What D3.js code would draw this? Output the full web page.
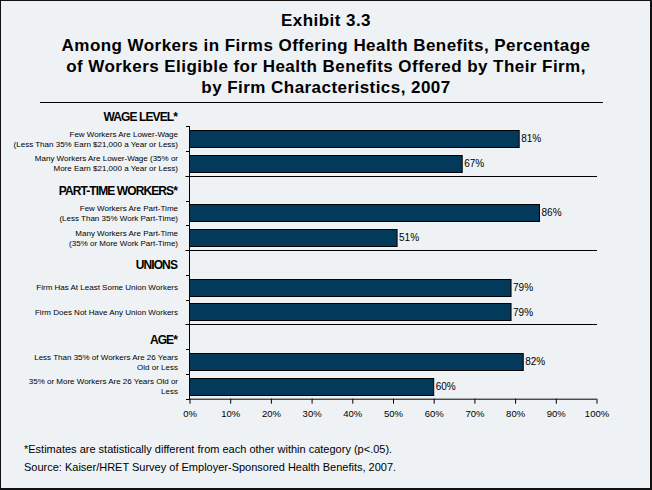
<!DOCTYPE html>
<html>
<head>
<meta charset="utf-8">
<script src="https://cdn.jsdelivr.net/npm/d3@7"></script>
<style>
  html, body { margin: 0; padding: 0; background: #EEF2F5; }
  svg { display: block; }
  text { font-family: "Liberation Sans", Arial, sans-serif; }
</style>
</head>
<body>
<svg id="chart" width="652" height="490"></svg>
<script>
// ---- data ----
const titleLines = [
  "Exhibit 3.3",
  "Among Workers in Firms Offering Health Benefits, Percentage",
  "of Workers Eligible for Health Benefits Offered by Their Firm,",
  "by Firm Characteristics, 2007"
];
const groupHeaders = ["WAGE LEVEL*", "PART-TIME WORKERS*", "UNIONS", "AGE*"];
const categoryLabels = [
  ["Few Workers Are Lower-Wage", "(Less Than 35% Earn $21,000 a Year or Less)"],
  ["Many Workers Are Lower-Wage (35% or", "More Earn $21,000 a Year or Less)"],
  ["Few Workers Are Part-Time", "(Less Than 35% Work Part-Time)"],
  ["Many Workers Are Part-Time", "(35% or More Work Part-Time)"],
  ["Firm Has At Least Some Union Workers"],
  ["Firm Does Not Have Any Union Workers"],
  ["Less Than 35% of Workers Are 26 Years", "Old or Less"],
  ["35% or More Workers Are 26 Years Old or", "Less"]
];
const values = [81, 67, 86, 51, 79, 79, 82, 60];
const xTicks = [0, 10, 20, 30, 40, 50, 60, 70, 80, 90, 100];
const footnotes = [
  "*Estimates are statistically different from each other within category (p<.05).",
  "Source:  Kaiser/HRET Survey of Employer-Sponsored Health Benefits, 2007."
];

// ---- build rows: header, bar, bar per group ----
const rows = [];
groupHeaders.forEach((h, g) => {
  rows.push({ type: "header", key: "h" + g, label: h });
  for (let k = 0; k < 2; k++) {
    const i = g * 2 + k;
    rows.push({ type: "bar", key: "b" + i, label: categoryLabels[i], value: values[i] });
  }
});

const svg = d3.select("#chart");
const W = 652, H = 490;

// background
svg.append("rect").attr("x", 0).attr("y", 0).attr("width", W).attr("height", H).attr("fill", "#EEF2F5");

// frame
svg.append("line").attr("x1", 0.5).attr("x2", 0.5).attr("y1", 0).attr("y2", 490).attr("stroke", "#111").attr("stroke-width", 1);
svg.append("line").attr("x1", 0).attr("x2", 652).attr("y1", 0.5).attr("y2", 0.5).attr("stroke", "#111").attr("stroke-width", 1);
svg.append("line").attr("x1", 651).attr("x2", 651).attr("y1", 0).attr("y2", 490).attr("stroke", "#111").attr("stroke-width", 2);
svg.append("line").attr("x1", 0).attr("x2", 652).attr("y1", 489).attr("y2", 489).attr("stroke", "#111").attr("stroke-width", 2);

// title
const titleY = [26, 51, 72, 93];
svg.append("g").selectAll("text").data(titleLines).join("text")
  .attr("x", 326).attr("y", (d, i) => titleY[i])
  .attr("text-anchor", "middle")
  .attr("font-size", 17).attr("font-weight", "bold").attr("letter-spacing", 0.45).attr("fill", "#000")
  .text(d => d);
svg.append("line").attr("x1", 40).attr("x2", 603).attr("y1", 102.5).attr("y2", 102.5)
  .attr("stroke", "#000").attr("stroke-width", 1);

// scales
const x = d3.scaleLinear().domain([0, 100]).range([189.5, 596.5]);
const y = d3.scaleBand().domain(rows.map(r => r.key)).range([101.5, 398.7])
  .paddingInner(0.31).paddingOuter(0.155);
const step = y.step();
const slotTop = k => y(k) - y.paddingInner() * step / 2;

// separator gridlines (at start of each header slot except first)
const sepKeys = rows.filter((r, i) => r.type === "header" && i > 0).map(r => r.key);
svg.append("g").selectAll("line").data(sepKeys).join("line")
  .attr("x1", 185.5).attr("x2", 597)
  .attr("y1", k => Math.round(slotTop(k)) + 0.5).attr("y2", k => Math.round(slotTop(k)) + 0.5)
  .attr("stroke", "#000").attr("stroke-width", 1);

// y axis line and ticks
const axisTop = slotTop(rows[1].key);
const axisBottom = 398.7;
svg.append("line").attr("x1", 189.5).attr("x2", 189.5).attr("y1", Math.round(axisTop)).attr("y2", axisBottom + 0.5)
  .attr("stroke", "#000").attr("stroke-width", 1);
const yTickPos = rows.slice(1).map(r => slotTop(r.key)).concat([axisBottom]);
svg.append("g").selectAll("line").data(yTickPos).join("line")
  .attr("x1", 186).attr("x2", 189.5)
  .attr("y1", d => Math.round(d) + 0.5).attr("y2", d => Math.round(d) + 0.5)
  .attr("stroke", "#000").attr("stroke-width", 1);

// bars
const barRows = rows.filter(r => r.type === "bar");
svg.append("g").selectAll("rect").data(barRows).join("rect")
  .attr("x", x(0)).attr("y", r => Math.round(y(r.key)) + 0.5)
  .attr("width", r => x(r.value) - x(0)).attr("height", Math.round(y.bandwidth()))
  .attr("fill", "#033A5B").attr("stroke", "#000").attr("stroke-width", 1);

// value labels
svg.append("g").selectAll("text").data(barRows).join("text")
  .attr("x", r => x(r.value) + 2).attr("y", r => y(r.key) + y.bandwidth() / 2 + 3.5)
  .attr("font-size", 10).attr("fill", "#000")
  .text(r => r.value + "%");

// category labels
const labG = svg.append("g");
barRows.forEach(r => {
  const cy = y(r.key) + y.bandwidth() / 2;
  const n = r.label.length;
  r.label.forEach((line, j) => {
    labG.append("text")
      .attr("x", 178).attr("y", cy + (j - (n - 1) / 2) * 10 + 3)
      .attr("text-anchor", "end").attr("font-size", 8).attr("fill", "#000")
      .text(line);
  });
});

// group headers
svg.append("g").selectAll("text").data(rows.filter(r => r.type === "header")).join("text")
  .attr("x", 177).attr("y", r => y(r.key) + y.bandwidth() / 2 + 7)
  .attr("text-anchor", "end").attr("font-size", 12).attr("font-weight", "bold")
  .attr("letter-spacing", -0.9).attr("fill", "#000")
  .text(r => r.label);

// x axis
const xAxis = d3.axisBottom(x).tickValues(xTicks).tickFormat(d => d + "%").tickSize(5).tickSizeOuter(0);
const gx = svg.append("g").attr("transform", `translate(0,${axisBottom})`).call(xAxis);
gx.select(".domain").attr("stroke", "#000").attr("d", `M${x(0)},0.5H${x(100)}`);
gx.selectAll(".tick line").attr("stroke", "#000");
gx.selectAll(".tick text").attr("font-size", 9.5).attr("fill", "#000")
  .attr("font-family", '"Liberation Sans", Arial, sans-serif').attr("dy", "0.3em").attr("y", 15.5);

// footnotes
svg.append("g").selectAll("text").data(footnotes).join("text")
  .attr("x", 24).attr("y", (d, i) => [453, 470.5][i])
  .attr("font-size", 11).attr("fill", "#000")
  .text(d => d);
</script>
</body>
</html>
